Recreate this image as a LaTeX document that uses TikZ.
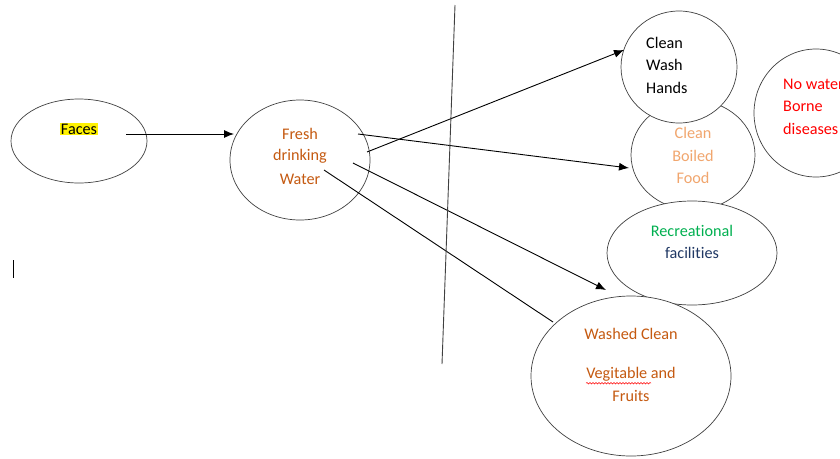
\documentclass[tikz,border=0pt]{standalone}
\usepackage{fontspec}
\setmainfont{Carlito}[Ligatures=NoCommon]
\usepackage{xcolor}
\usepackage{tikz}
\usetikzlibrary{shapes.geometric,arrows.meta,decorations.pathmorphing}
\definecolor{rust}{RGB}{197,90,17}
\definecolor{peach}{RGB}{241,166,110}
\definecolor{leaf}{RGB}{0,176,80}
\definecolor{navy}{RGB}{32,56,100}
\definecolor{rim}{RGB}{64,64,64}

\begin{document}
\begin{tikzpicture}[x=1pt,y=-1pt,
		bub/.style={draw=rim,fill=white,ellipse,inner sep=0pt,line width=0.7pt},
		txt/.style={font=\fontsize{16.2}{19}\selectfont,inner sep=0pt},
		arr/.style={line width=0.9pt,-{Latex[length=10pt,width=8pt]}}]
	\useasboundingbox (0,0) rectangle (840,458);
	\clip (0,0) rectangle (840,458);
	
	% bubbles (later ones cover earlier ones)
	\node[bub,minimum width=136pt,minimum height=84pt] (faces) at (79,141){};
	\node[bub,minimum width=140pt,minimum height=120pt] (water) at (300,160){};
	\node[bub,minimum width=124pt,minimum height=110pt] (food) at (693,155){};
	\node[bub,minimum width=116pt,minimum height=112pt] (hands) at (679,67){};
	\node[bub,minimum width=170pt,minimum height=104pt] (recr) at (692,253){};
	\node[bub,minimum width=200pt,minimum height=160pt] (veg) at (631,376){};
	\node[bub,minimum width=124pt,minimum height=128pt] (nowater) at (816,113){};
	
	% texts
	\node[txt,fill=yellow,inner sep=0.5pt] (tfaces) at (79,129){Faces};
	\foreach \x/\y/\t in
	{wa/134/Fresh, wb/156/drinking, wc/179/Water}{
		\node[txt,text=rust] (\x) at (300,\y){\t};
	}
	\foreach \x/\y/\t in
	{ha/43/Clean, hb/65/Wash, hc/88/Hands}{
		\node[txt,anchor=west] (\x) at (646,\y){\t};
	}
	\foreach \x/\y/\t in
	{fa/133/Clean, fb/156/Boiled, fc/178/Food}{
		\node[txt,text=peach] (\x) at (693,\y){\t};
	}
	\node[txt,text=leaf] (ra) at (692,231){Recreational};
	\node[txt,text=navy] (rb) at (692,253){facilities};
	\node[txt,text=rust] (va) at (631,334){Washed Clean};
	\node[txt,text=rust] (vb) at (631,374){Vegitable and};
	\node[txt,text=rust] (vc) at (631,396){Fruits};
	\foreach \x/\y/\t in
	{na/84/No water, nb/106/Borne, nc/129/diseases}{
		\node[txt,text=red,anchor=west] (\x) at (783,\y){\t};
	}
	
	% spell-check squiggle
	\draw[red,line width=0.5pt,decorate,decoration={snake,amplitude=0.8pt,segment length=3pt}]
		(vb.south west) ++(0,2) -- ++(65,0);
	
	% connector ends
	\foreach \x/\y in
	{s0/{126,134}, e0/{234,134}, s1/{367,152}, e1/{624,50}, s2/{358,134}, e2/{629,168},
	 s3/{353,163}, e3/{606,290}, s4/{324,170}, e4/{553,322}, ta/{455,5}, tb/{442,364},
	 ca/{13,260}, cb/{13,278}}{
		\coordinate(\x) at (\y);
	}
	
	\draw[arr] (s0)--(e0);
	\foreach \x/\y in
	{s1/e1, s2/e2, s3/e3}{
		\draw[arr] (\x)--(\y);
	}
	\draw[line width=0.9pt] (s4)--(e4);
	\draw[line width=0.9pt,rim] (ta)--(tb);
	\draw[line width=0.9pt] (ca)--(cb);
\end{tikzpicture}
\end{document}
